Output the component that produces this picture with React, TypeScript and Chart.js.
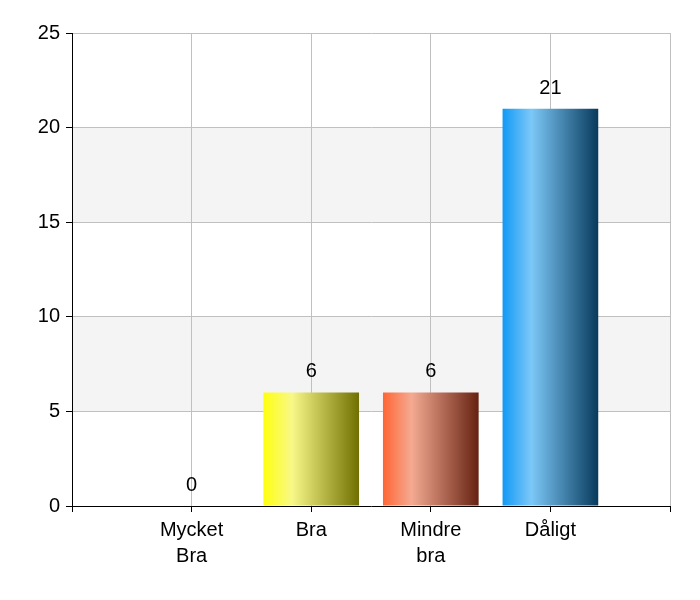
import { useEffect, useRef } from "react"
import { Chart, registerables } from "chart.js"

Chart.register(...registerables)

// Categories and values
const categories: (string | string[])[] = [["Mycket", "Bra"], "Bra", ["Mindre", "bra"], "Dåligt"]
const values = [0, 6, 6, 21]
const yTicks = [0, 5, 10, 15, 20, 25]

// Horizontal gradient stops per bar: left, highlight, right
const barGradients = [
  ["#ffff00", "#f8f888", "#707000"],
  ["#ffff10", "#f8f888", "#707000"],
  ["#ff6633", "#f4aa92", "#662211"],
  ["#1199f5", "#7cc8f8", "#083a5c"],
]

const FONT = "'Liberation Sans', Arial, sans-serif"

// gray bands behind the grid
const bandsPlugin = {
  id: "bands",
  beforeDraw(chart: Chart) {
    const { ctx, chartArea } = chart
    const y = chart.scales.y
    ctx.save()
    ctx.fillStyle = "#f4f4f4"
    for (const [lo, hi] of [[5, 10], [15, 20]]) {
      const top = y.getPixelForValue(hi)
      const bottom = y.getPixelForValue(lo)
      ctx.fillRect(chartArea.left, top, chartArea.right - chartArea.left, bottom - top)
    }
    ctx.restore()
  },
}

// value labels above bars
const valueLabelPlugin = {
  id: "valueLabels",
  afterDatasetsDraw(chart: Chart) {
    const { ctx } = chart
    const meta = chart.getDatasetMeta(0)
    ctx.save()
    ctx.fillStyle = "#000"
    ctx.font = `20px ${FONT}`
    ctx.textAlign = "center"
    ctx.textBaseline = "alphabetic"
    meta.data.forEach((bar: any, i: number) => {
      const v = chart.data.datasets[0].data[i]
      if (v === null || v === undefined) return
      ctx.fillText(String(v), bar.x, bar.y - 15)
    })
    ctx.restore()
  },
}

export default function App() {
  const chartRef = useRef<HTMLCanvasElement>(null)
  const chartInstance = useRef<Chart | null>(null)

  useEffect(() => {
    if (!chartRef.current) return
    if (chartInstance.current) chartInstance.current.destroy()
    const ctx = chartRef.current.getContext("2d")
    if (!ctx) return

    // empty slots at both ends so the bars sit on the grid lines
    const labels = ["", ...categories, ""]
    const data = [null, ...values, null]

    chartInstance.current = new Chart(ctx, {
      type: "bar",
      data: {
        labels,
        datasets: [
          {
            data,
            barPercentage: 0.8,
            categoryPercentage: 1,
            borderWidth: 0,
            backgroundColor: (context: any) => {
              const chart = context.chart
              const xs = chart.scales?.x
              const stops = barGradients[context.dataIndex - 1]
              if (!stops) return "#000"
              if (!xs) return stops[0]
              const center = xs.getPixelForValue(context.dataIndex)
              const w = (xs.getPixelForValue(1) - xs.getPixelForValue(0)) * 0.8
              const g = chart.ctx.createLinearGradient(center - w / 2, 0, center + w / 2, 0)
              g.addColorStop(0, stops[0])
              g.addColorStop(0.3, stops[1])
              g.addColorStop(1, stops[2])
              return g
            },
          },
        ],
      },
      options: {
        responsive: true,
        maintainAspectRatio: false,
        animation: false,
        layout: { padding: { top: 33, right: 30, left: 0, bottom: 0 } },
        plugins: {
          legend: { display: false },
          tooltip: { enabled: false },
        },
        scales: {
          x: {
            offset: false,
            grid: { offset: false, color: "#c0c0c0", tickColor: "#000", tickLength: 6 },
            border: { color: "#000", width: 1 },
            ticks: {
              color: "#000",
              font: { family: FONT, size: 20, lineHeight: 1.3 },
              padding: 5,
              maxRotation: 0,
              autoSkip: false,
            },
            afterFit: (scale: any) => {
              scale.height = 94
            },
          },
          y: {
            min: 0,
            max: 25,
            afterBuildTicks: (scale: any) => {
              scale.ticks = yTicks.map((v) => ({ value: v }))
            },
            grid: { color: "#c0c0c0", tickColor: "#000", tickLength: 6 },
            border: { color: "#000", width: 1 },
            ticks: {
              color: "#000",
              font: { family: FONT, size: 20 },
              padding: 6,
            },
            afterFit: (scale: any) => {
              scale.width = 72
            },
          },
        },
      },
      plugins: [bandsPlugin, valueLabelPlugin],
    })

    return () => {
      if (chartInstance.current) {
        chartInstance.current.destroy()
        chartInstance.current = null
      }
    }
  }, [])

  return (
    <div style={{ position: "fixed", left: 0, top: 0, width: 700, height: 600, background: "#fff" }}>
      <canvas ref={chartRef} />
    </div>
  )
}
